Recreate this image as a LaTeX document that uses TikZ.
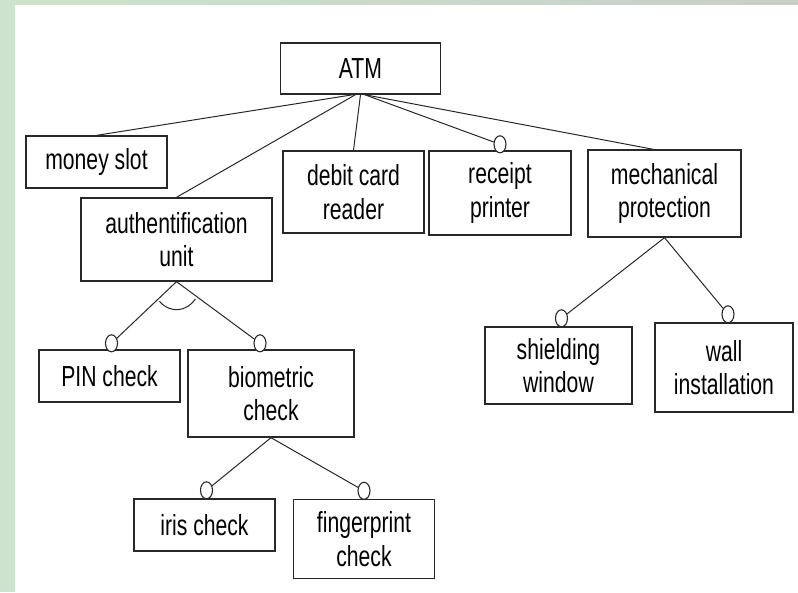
\documentclass[tikz,border=0pt]{standalone}
\usepackage{fontspec}
\setmainfont{Liberation Sans}[FakeStretch=0.73]
\usepackage{tikz}
\usetikzlibrary{positioning,shapes.geometric}
\definecolor{bandgreen}{RGB}{205,227,205}
\definecolor{bandgrey}{RGB}{200,206,200}
\definecolor{edgegrey}{RGB}{40,40,40}

\begin{document}
\begin{tikzpicture}[x=1pt,y=-1pt]
	\tikzstyle{every node}+=[inner sep=0pt, font=\fontsize{29}{33.5}\selectfont]
	\tikzstyle{box}=[draw=edgegrey, line width=1.3pt, align=center]
	\tikzstyle{ring}=[draw=edgegrey, line width=1.1pt, ellipse, minimum width=12pt, minimum height=17pt, fill=white]
	\tikzstyle{link}=[draw=edgegrey, line width=1pt]
	\useasboundingbox (0,0) rectangle (798,592);
	\fill [bandgreen] (0,0) rectangle (798,592);
	\shade [left color=bandgreen, right color=bandgrey] (0,0) rectangle (798,5);
	\fill [white] (15,5) rectangle (798,592);
	\node [box, minimum width=160pt, minimum height=51pt] (atm) at (360.5,68.5) {ATM};
	\node [box, minimum width=141pt, minimum height=52pt] (money) at (96.5,162) {money slot};
	\node [box, minimum width=141pt, minimum height=82pt] (debit) at (353.5,192) {debit card\\reader};
	\node [box, minimum width=142pt, minimum height=84pt] (receipt) at (500,193) {receipt\\printer};
	\node [box, minimum width=153pt, minimum height=87pt] (mech) at (664.5,193.5) {mechanical\\protection};
	\node [box, minimum width=191pt, minimum height=83pt] (auth) at (176.5,239.5) {authentification\\unit};
	\node [box, minimum width=141pt, minimum height=52pt] (pin) at (109.5,376) {PIN check};
	\node [box, minimum width=166pt, minimum height=87pt] (bio) at (271,393.5) {biometric\\check};
	\node [box, minimum width=141pt, minimum height=52pt] (iris) at (204.5,525) {iris check};
	\node [box, minimum width=141pt, minimum height=79pt] (finger) at (364,539) {fingerprint\\check};
	\node [box, minimum width=147pt, minimum height=77pt] (shield) at (558.5,365.5) {shielding\\window};
	\node [box, minimum width=138pt, minimum height=89pt] (wall) at (724,367.5) {wall\\installation};
	\node [ring, above=-3pt of receipt] (receiptring) {};
	\node [ring, above=-3pt of pin, xshift=2pt] (pinring) {};
	\node [ring, above=-3pt of bio, xshift=-11pt] (bioring) {};
	\node [ring, above=-1pt of iris, xshift=2pt] (irisring) {};
	\node [ring, above=-1pt of finger] (fingerring) {};
	\node [ring, above=-1pt of shield, xshift=3pt] (shieldring) {};
	\node [ring, above=-1pt of wall, xshift=4pt] (wallring) {};
	\draw [link] ([xshift=-7pt]atm.south) -- (money.north);
	\draw [link] ([xshift=-5pt]atm.south) -- (auth.north);
	\draw [link] (atm.south) -- (debit.north);
	\draw [link] ([xshift=4pt]atm.south) -- (receiptring);
	\draw [link] ([xshift=4pt]atm.south) -- ([xshift=-11pt]mech.north);
	\draw [link] (auth.south) -- (pinring);
	\draw [link] (auth.south) -- (bioring);
	\draw [link] (auth.south) ++(38:24 and 28) arc [start angle=38, end angle=135, x radius=24, y radius=28];
	\draw [link] (bio.south) -- (irisring);
	\draw [link] (bio.south) -- (fingerring);
	\draw [link] (mech.south) -- (shieldring);
	\draw [link] (mech.south) -- (wallring);
\end{tikzpicture}
\end{document}
